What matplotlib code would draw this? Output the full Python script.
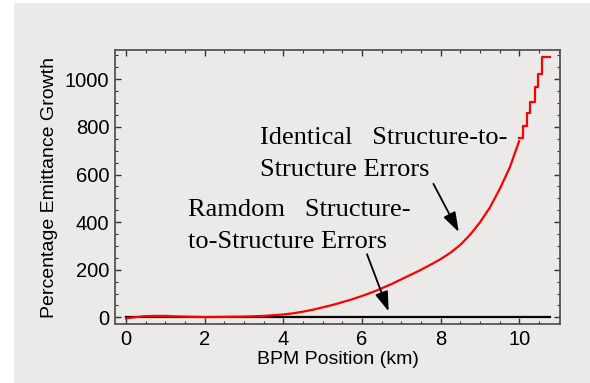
import numpy as np
import matplotlib
matplotlib.use("Agg")
import matplotlib.pyplot as plt
from matplotlib.patches import Rectangle
from matplotlib.ticker import MultipleLocator

# Emittance growth along the linac (km, %)
pos_smooth = [0.0, 0.25, 0.5, 0.75, 1.0, 1.25, 1.5, 2.0, 2.5, 3.0, 3.5, 4.0, 4.25, 4.5,
              4.75, 5.0, 5.25, 5.5, 5.75, 6.0, 6.25, 6.5, 6.75, 7.0, 7.25, 7.5, 7.75,
              8.0, 8.25, 8.5, 8.75, 9.0, 9.25, 9.5, 9.75, 9.99]
growth_smooth = [-4, 1, 5, 6, 6, 4, 3, 1, 2, 3, 6, 12, 17, 24,
                 32, 42, 52, 64, 76, 90, 105, 122, 140, 160, 180, 200, 222,
                 245, 272, 305, 348, 400, 462, 540, 628, 740]

# last few BPMs: stepwise growth
pos_steps = [9.99, 10.08, 10.18, 10.27, 10.40, 10.48, 10.57, 10.78]
growth_steps = [755, 804, 857, 906, 966, 1021, 1095, 1095]

# random structure-to-structure errors stay flat
pos_random = [0.0, 10.78]
growth_random = [0, 0]

bg = "#ebeae8"
fig = plt.figure(figsize=(5.9, 3.83), dpi=100, facecolor="white")
fig.patches.append(Rectangle((14 / 590, 0), 1, 1 - 3 / 383, transform=fig.transFigure,
                             facecolor=bg, edgecolor="none", zorder=-10))
ax = fig.add_axes([115 / 590, 1 - 324 / 383, 445 / 590, 274 / 383])
ax.set_facecolor(bg)

ax.plot(pos_random, growth_random, color="black", lw=1.6, zorder=2)
ax.plot(pos_smooth, growth_smooth, color="red", lw=1.6, zorder=3)
ax.plot(pos_steps, growth_steps, color="red", lw=1.6, drawstyle="steps-post", zorder=3)

ax.set_xlim(-0.28, 11.03)
ax.set_ylim(-28, 1123)
ax.xaxis.set_major_locator(MultipleLocator(2))
ax.xaxis.set_minor_locator(MultipleLocator(0.5))
ax.yaxis.set_major_locator(MultipleLocator(200))
ax.yaxis.set_minor_locator(MultipleLocator(50))
ax.tick_params(which="both", direction="in", top=True, right=True, color="#333333",
               labelsize=14.5, labelfontfamily="Liberation Sans")
ax.tick_params(which="major", length=4, width=1, pad=4)
ax.tick_params(which="minor", length=2.5, width=0.8)
for s in ax.spines.values():
    s.set_color("#555555")
    s.set_linewidth(1.3)

ax.set_xlabel("BPM Position (km)", fontsize=14, family="Liberation Sans", labelpad=2)
ax.set_ylabel("Percentage Emittance Growth", fontsize=14, family="Liberation Sans", labelpad=5)

serif = dict(family="Liberation Serif", fontsize=19, color="black", va="baseline", ha="left")
ax.text(3.41, 728, "Identical   Structure-to-", **serif)
ax.text(3.41, 593, "Structure Errors", **serif)
ax.text(1.58, 424, "Ramdom   Structure-", **serif)
ax.text(1.58, 293, "to-Structure Errors", **serif)

arrow = dict(arrowstyle="-|>,head_width=0.4,head_length=1.2", color="black", lw=1.3)
ax.annotate("", xy=(8.49, 348), xytext=(7.78, 571), arrowprops=arrow)
ax.annotate("", xy=(6.70, 14), xytext=(6.10, 276), arrowprops=arrow)

fig.savefig("out.png", dpi=100, facecolor="white")
